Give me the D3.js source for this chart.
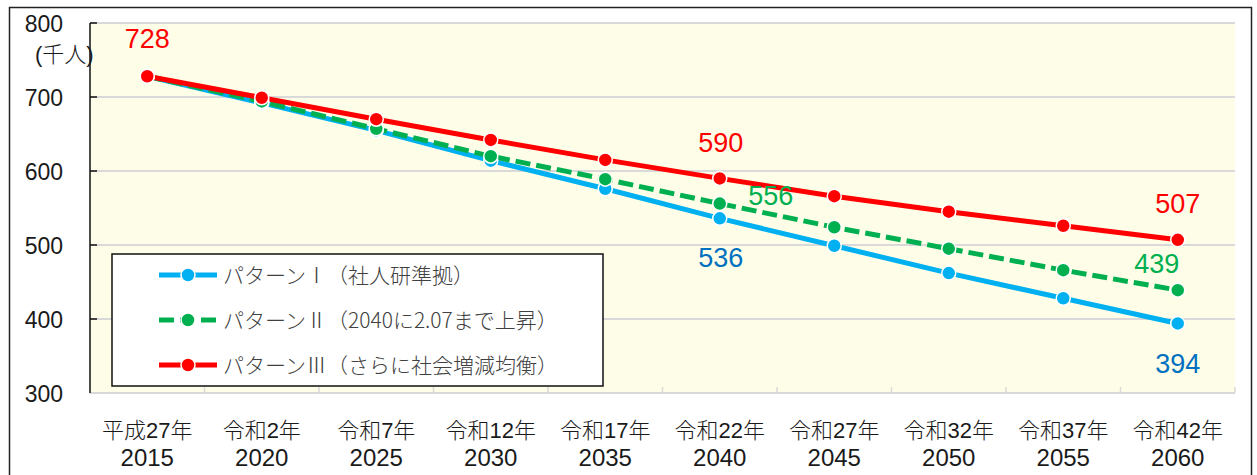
<!DOCTYPE html>
<html>
<head>
<meta charset="utf-8">
<script src="https://cdn.jsdelivr.net/npm/d3@7"></script>
<style>
  html, body { margin: 0; padding: 0; background: #fff; }
  svg { display: block; font-family: "Liberation Sans", "Noto Sans CJK JP", sans-serif; }
</style>
</head>
<body>
<div id="chart"></div>
<script>
// categories (two-line axis labels)
const eraLabels = [`平成27年`, `令和2年`, `令和7年`, `令和12年`, `令和17年`, `令和22年`, `令和27年`, `令和32年`, `令和37年`, `令和42年`];
const years = [`2015`, `2020`, `2025`, `2030`, `2035`, `2040`, `2045`, `2050`, `2055`, `2060`];
const yTicks = [300, 400, 500, 600, 700, 800];

// population (thousand people)
const pattern1 = [728, 692, 655, 614, 576, 536, 499, 462, 428, 394];
const pattern2 = [728, 694, 657, 620, 589, 556, 524, 495, 466, 439];
const pattern3 = [728, 699, 670, 642, 615, 590, 566, 545, 526, 507];

const seriesNames = [
  `パターンⅠ（社人研準拠）`,
  `パターンⅡ（2040に2.07まで上昇）`,
  `パターンⅢ（さらに社会増減均衡）`,
];

const series = [
  { name: seriesNames[0], values: pattern1, color: `#00B0F0`, label: `#0070C0`, dash: null },
  { name: seriesNames[1], values: pattern2, color: `#00B050`, label: `#00B050`, dash: `15,6` },
  { name: seriesNames[2], values: pattern3, color: `#FF0000`, label: `#FF0000`, dash: null },
];

// which points get a value label (series index, point index, offset)
const valueLabels = [
  { s: 2, i: 0, dx: 0, dy: -28 },
  { s: 2, i: 5, dx: 1, dy: -26 },
  { s: 1, i: 5, dx: 51, dy: 1 },
  { s: 0, i: 5, dx: 1, dy: 49 },
  { s: 2, i: 9, dx: 0, dy: -27 },
  { s: 1, i: 9, dx: -21, dy: -17 },
  { s: 0, i: 9, dx: 0, dy: 50 },
];

const width = 1257;
const height = 475;
const plot = { left: 90, right: 1235, top: 23, bottom: 393 };

const svg = d3.select(`#chart`).append(`svg`)
  .attr(`width`, width)
  .attr(`height`, height);

// outer frame
svg.append(`rect`)
  .attr(`x`, 9.5).attr(`y`, 7.5)
  .attr(`width`, 1242).attr(`height`, 480)
  .attr(`fill`, `#fff`)
  .attr(`stroke`, `#222`)
  .attr(`stroke-width`, 1.5);

const x = d3.scaleBand().domain(years).range([plot.left, plot.right]);
const y = d3.scaleLinear().domain([300, 800]).range([plot.bottom, plot.top]);

// plot background
svg.append(`rect`)
  .attr(`x`, plot.left).attr(`y`, plot.top)
  .attr(`width`, plot.right - plot.left)
  .attr(`height`, plot.bottom - plot.top)
  .attr(`fill`, `#FEFEE8`);

// gridlines
svg.append(`g`)
  .selectAll(`line`)
  .data(yTicks.filter((d) => d > 300))
  .enter()
  .append(`line`)
  .attr(`x1`, plot.left).attr(`x2`, plot.right)
  .attr(`y1`, (d) => y(d)).attr(`y2`, (d) => y(d))
  .attr(`stroke`, `#D9D9D9`)
  .attr(`stroke-width`, 2);

// x axis (light gray, ticks between categories)
const xAxis = svg.append(`g`);
xAxis.append(`line`)
  .attr(`x1`, plot.left).attr(`x2`, plot.right)
  .attr(`y1`, plot.bottom).attr(`y2`, plot.bottom)
  .attr(`stroke`, `#D9D9D9`)
  .attr(`stroke-width`, 2);
xAxis.selectAll(`line.tick`)
  .data(years.slice(1).concat([null]))
  .enter()
  .append(`line`)
  .attr(`class`, `tick`)
  .attr(`x1`, (d) => (d ? x(d) : plot.right))
  .attr(`x2`, (d) => (d ? x(d) : plot.right))
  .attr(`y1`, plot.bottom - 6).attr(`y2`, plot.bottom)
  .attr(`stroke`, `#D9D9D9`)
  .attr(`stroke-width`, 1.5);

const xLabels = xAxis.selectAll(`g.lbl`)
  .data(years)
  .enter()
  .append(`g`)
  .attr(`class`, `lbl`)
  .attr(`transform`, (d) => `translate(${x(d) + x.bandwidth() / 2}, 0)`);
xLabels.append(`text`)
  .attr(`y`, 438)
  .attr(`text-anchor`, `middle`)
  .attr(`fill`, `#1a1a1a`)
  .style(`font-size`, `22px`)
  .style(`font-weight`, 300)
  .text((d, i) => eraLabels[i]);
xLabels.append(`text`)
  .attr(`y`, 466)
  .attr(`text-anchor`, `middle`)
  .attr(`fill`, `#1a1a1a`)
  .style(`font-size`, `24px`)
  .text((d) => d);

// y axis (black with inside ticks)
const yAxis = svg.append(`g`);
yAxis.append(`line`)
  .attr(`x1`, plot.left).attr(`x2`, plot.left)
  .attr(`y1`, plot.top).attr(`y2`, plot.bottom)
  .attr(`stroke`, `#111`)
  .attr(`stroke-width`, 1.5);
yAxis.selectAll(`line.tick`)
  .data(yTicks.filter((d) => d > 300))
  .enter()
  .append(`line`)
  .attr(`class`, `tick`)
  .attr(`x1`, plot.left).attr(`x2`, plot.left + 7)
  .attr(`y1`, (d) => y(d)).attr(`y2`, (d) => y(d))
  .attr(`stroke`, `#111`)
  .attr(`stroke-width`, 1.5);
yAxis.selectAll(`text`)
  .data(yTicks)
  .enter()
  .append(`text`)
  .attr(`x`, 63)
  .attr(`y`, (d) => y(d) + 9)
  .attr(`text-anchor`, `end`)
  .attr(`fill`, `#1a1a1a`)
  .style(`font-size`, `23px`)
  .text((d) => d);

svg.append(`text`)
  .attr(`x`, 35).attr(`y`, 62)
  .attr(`fill`, `#1a1a1a`)
  .style(`font-size`, `22px`)
  .style(`font-weight`, 300)
  .text(`(千人)`);

// lines and markers
const line = d3.line()
  .x((d, i) => x(years[i]) + x.bandwidth() / 2)
  .y((d) => y(d));

const lines = svg.append(`g`);
series.forEach((s) => {
  lines.append(`path`)
    .datum(s.values)
    .attr(`d`, line)
    .attr(`fill`, `none`)
    .attr(`stroke`, s.color)
    .attr(`stroke-width`, 5)
    .attr(`stroke-dasharray`, s.dash);
});
series.forEach((s) => {
  lines.append(`g`)
    .selectAll(`circle`)
    .data(s.values)
    .enter()
    .append(`circle`)
    .attr(`cx`, (d, i) => x(years[i]) + x.bandwidth() / 2)
    .attr(`cy`, (d) => y(d))
    .attr(`r`, 7)
    .attr(`fill`, s.color)
    .attr(`stroke`, `#fff`)
    .attr(`stroke-width`, 1.5);
});

// value labels
svg.append(`g`)
  .selectAll(`text`)
  .data(valueLabels)
  .enter()
  .append(`text`)
  .attr(`x`, (d) => x(years[d.i]) + x.bandwidth() / 2 + d.dx)
  .attr(`y`, (d) => y(series[d.s].values[d.i]) + d.dy)
  .attr(`text-anchor`, `middle`)
  .attr(`fill`, (d) => series[d.s].label)
  .style(`font-size`, `27px`)
  .text((d) => series[d.s].values[d.i]);

// legend
const legend = svg.append(`g`);
legend.append(`rect`)
  .attr(`x`, 112).attr(`y`, 254)
  .attr(`width`, 491).attr(`height`, 132)
  .attr(`fill`, `#fff`)
  .attr(`stroke`, `#111`)
  .attr(`stroke-width`, 1.5);
const items = legend.selectAll(`g.item`)
  .data(series)
  .enter()
  .append(`g`)
  .attr(`class`, `item`)
  .attr(`transform`, (d, i) => `translate(0, ${275 + i * 45})`);
items.append(`line`)
  .attr(`x1`, 159).attr(`x2`, 217)
  .attr(`stroke`, (d) => d.color)
  .attr(`stroke-width`, 5)
  .attr(`stroke-dasharray`, (d) => d.dash);
items.append(`circle`)
  .attr(`cx`, 188).attr(`r`, 7)
  .attr(`fill`, (d) => d.color)
  .attr(`stroke`, `#fff`)
  .attr(`stroke-width`, 1.5);
items.append(`text`)
  .attr(`x`, 223).attr(`y`, 8)
  .attr(`fill`, `#404040`)
  .style(`font-family`, `"Noto Sans CJK JP", sans-serif`)
  .style(`font-size`, `21px`)
  .style(`font-weight`, 300)
  .text((d) => d.name);
</script>
</body>
</html>
